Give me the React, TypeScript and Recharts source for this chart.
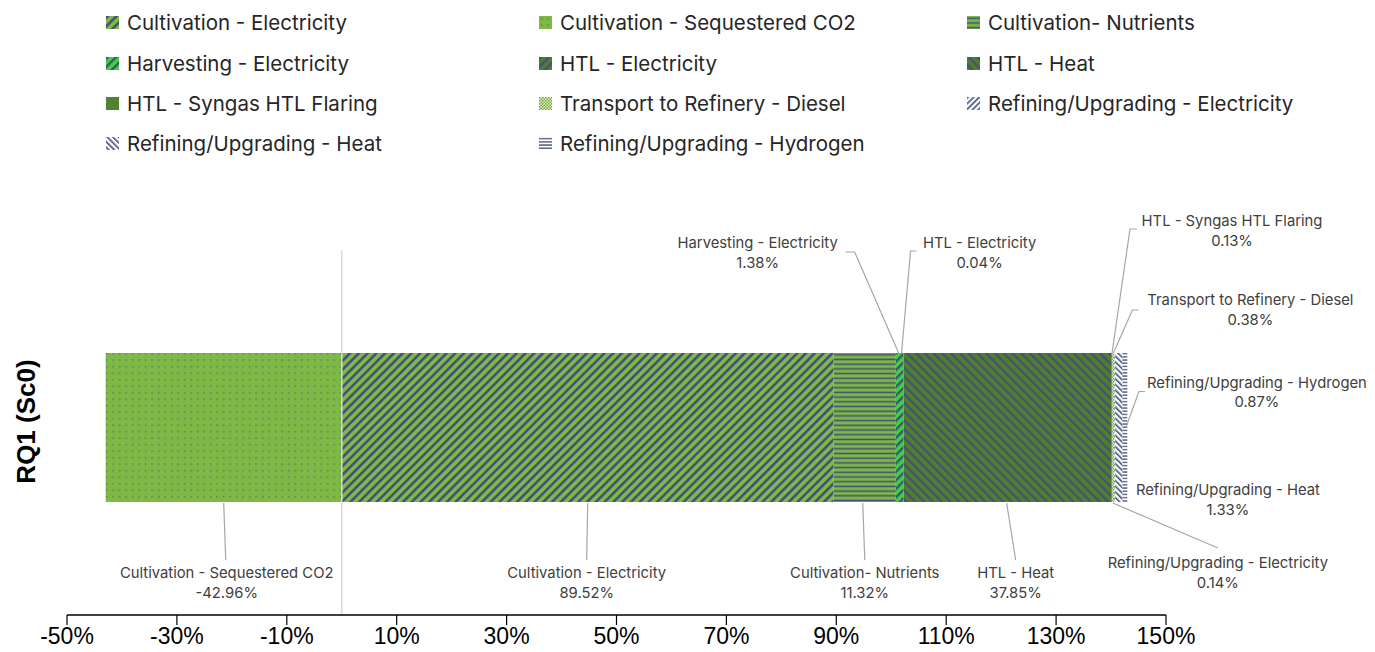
import React from "react";
import { BarChart, Bar, XAxis, YAxis, ReferenceLine, LabelList } from "recharts";

const CATEGORIES = ["RQ1 (Sc0)"];
const SERIES = [
  "Cultivation - Electricity",
  "Cultivation - Sequestered CO2",
  "Cultivation- Nutrients",
  "Harvesting - Electricity",
  "HTL - Electricity",
  "HTL - Heat",
  "HTL - Syngas HTL Flaring",
  "Transport to Refinery - Diesel",
  "Refining/Upgrading - Electricity",
  "Refining/Upgrading - Heat",
  "Refining/Upgrading - Hydrogen",
];
const VALUES = [89.52, -42.96, 11.32, 1.38, 0.04, 37.85, 0.13, 0.38, 0.14, 1.33, 0.87];
const X_TICKS = [-50, -30, -10, 10, 30, 50, 70, 90, 110, 130, 150];

const LG = "#7db944";
const BG = "#3fd23f";
const DG = "#4f7f2a";
const DB = "#43517a";

// callout layout: anchor side on the bar, text offset, leader points (all relative to anchor)
type Callout = { side: "top" | "bottom" | "mid"; dx: number; dy: number; pts: number[][] };
const CALLOUTS: Callout[] = [
  { side: "bottom", dx: -1, dy: 71, pts: [[0, 1], [-1, 58]] },
  { side: "bottom", dx: 3, dy: 71, pts: [[0, 1], [2, 58]] },
  { side: "bottom", dx: 0, dy: 71, pts: [[-2, 1], [0, 58]] },
  { side: "top", dx: -142, dy: -110, pts: [[-1, 0], [-45, -101], [-54, -101]] },
  { side: "top", dx: 76, dy: -110, pts: [[-2, 0], [7, -102], [13, -102]] },
  { side: "bottom", dx: 8, dy: 71, pts: [[-1, 1], [8, 58]] },
  { side: "top", dx: 120, dy: -132, pts: [[0, 0], [18, -124], [25, -124]] },
  { side: "top", dx: 137, dy: -53, pts: [[0, 0], [19, -43], [25, -43]] },
  { side: "bottom", dx: 103, dy: 61, pts: [[-2, 1], [103, 46]] },
  { side: "bottom", dx: 109, dy: -12, pts: [] },
  { side: "mid", dx: 132, dy: -45, pts: [[1, 0], [14, -36], [20, -36]] },
];

const data = CATEGORIES.map((name) => {
  const row: Record<string, string | number> = { name };
  SERIES.forEach((_, i) => (row["s" + i] = VALUES[i]));
  return row;
});

function Patterns() {
  const stripes = (id: string, bg: string, fg: string, angle: number, size: number, w: number) => (
    <pattern id={id} width={size} height={size} patternUnits="userSpaceOnUse" patternTransform={`rotate(${angle})`}>
      <rect width={size} height={size} fill={bg} />
      <rect width={w} height={size} fill={fg} />
    </pattern>
  );
  return (
    <svg width={0} height={0} style={{ position: "absolute" }}>
      <defs>
        {stripes("p0", LG, DB, 45, 6.2, 2.6)}
        <pattern id="p1" width={6.5} height={6.5} patternUnits="userSpaceOnUse">
          <rect width={6.5} height={6.5} fill={LG} />
          <rect x={2} y={2} width={1.3} height={1.3} fill={DB} opacity={0.75} />
        </pattern>
        <pattern id="p2" width={6} height={4.7} patternUnits="userSpaceOnUse">
          <rect width={6} height={4.7} fill={LG} />
          <rect y={1.5} width={6} height={1.6} fill={DB} />
        </pattern>
        {stripes("p3", BG, DB, 45, 6, 2.4)}
        {stripes("p4", DG, DB, 45, 6, 2.4)}
        {stripes("p5", DG, DB, -45, 6.2, 2.2)}
        <pattern id="p6" width={4} height={4} patternUnits="userSpaceOnUse">
          <rect width={4} height={4} fill="#548235" />
        </pattern>
        <pattern id="p7" width={3} height={3} patternUnits="userSpaceOnUse">
          <rect width={3} height={3} fill="#eef3c8" />
          <rect width={1.5} height={1.5} fill="#6aa33a" />
          <rect x={1.5} y={1.5} width={1.5} height={1.5} fill="#6aa33a" />
        </pattern>
        {stripes("p8", "#ffffff", DB, 45, 4, 1.6)}
        {stripes("p9", "#ffffff", DB, -45, 4, 1.6)}
        <pattern id="p10" width={4} height={3.2} patternUnits="userSpaceOnUse">
          <rect width={4} height={3.2} fill="#ffffff" />
          <rect y={1} width={4} height={1.3} fill={DB} />
        </pattern>
      </defs>
    </svg>
  );
}

function CalloutLabel(props: any) {
  const i: number = props.idx;
  const vb = props.viewBox || props;
  const x = Number(vb.x ?? props.x);
  const y = Number(vb.y ?? props.y);
  const w = Number(vb.width ?? props.width);
  const h = Number(vb.height ?? props.height);
  const c = CALLOUTS[i];
  const ax = x + w / 2;
  const ay = c.side === "top" ? y : c.side === "bottom" ? y + h : y + h / 2;
  const tx = ax + c.dx;
  const ty = ay + c.dy;
  const path = c.pts.map((p, k) => `${k ? "L" : "M"}${ax + p[0]},${ay + p[1]}`).join(" ");
  return (
    <g>
      {path && <path d={path} fill="none" stroke="#a6a6a6" strokeWidth={1.2} />}
      <text x={tx} y={ty} textAnchor="middle" dominantBaseline="central" fontFamily="Inter, sans-serif" fontSize={14.8} fill="#404040">
        <tspan x={tx}>{SERIES[i]}</tspan>
        <tspan x={tx} dy={19.5}>{VALUES[i].toFixed(2)}%</tspan>
      </text>
    </g>
  );
}

function CategoryTick(props: any) {
  const { y, payload } = props;
  return (
    <text x={26} y={y - 6} transform={`rotate(-90, 26, ${y - 6})`} textAnchor="middle" dominantBaseline="central"
      fontFamily="'Liberation Sans', Arial, sans-serif" fontWeight="bold" fontSize={26} fill="#000">
      {payload.value}
    </text>
  );
}

const LEGEND_COLS = [106, 539, 967];
const LEGEND_ROWS = [22, 63, 103, 143];

function Legend() {
  return (
    <>
      {SERIES.map((s, i) => (
        <div key={s} style={{
          position: "absolute", left: LEGEND_COLS[i % 3], top: LEGEND_ROWS[Math.floor(i / 3)] - 14,
          height: 28, display: "flex", alignItems: "center", gap: 8,
          fontFamily: "Inter, sans-serif", fontSize: 20.5, color: "#262626", whiteSpace: "nowrap",
        }}>
          <svg width={13} height={13}><rect width={13} height={13} fill={`url(#p${i})`} /></svg>
          <span>{s}</span>
        </div>
      ))}
    </>
  );
}

export default function App() {
  return (
    <div style={{ position: "absolute", left: 0, top: 0, width: 1375, height: 652, background: "#fff" }}>
      <Patterns />
      <Legend />
      <BarChart
        width={1375}
        height={652}
        data={data}
        layout="vertical"
        stackOffset="sign"
        margin={{ top: 250, right: 209, bottom: 0, left: 27 }}
      >
        <XAxis
          type="number"
          domain={[-50, 150]}
          ticks={X_TICKS}
          interval={0}
          height={37}
          tickSize={10}
          tickMargin={3}
          tickFormatter={(v: number) => `${v}%`}
          axisLine={{ stroke: "#000", strokeWidth: 1.6 }}
          tickLine={{ stroke: "#000", strokeWidth: 1.2 }}
          tick={{ fontFamily: "'Liberation Sans Narrow', 'Arial Narrow', sans-serif", fontSize: 23, fill: "#000" }}
        />
        <YAxis
          type="category"
          dataKey="name"
          width={40}
          axisLine={false}
          tickLine={false}
          padding={{ top: 0, bottom: 10 }}
          tick={<CategoryTick />}
        />
        <ReferenceLine x={0} stroke="#d9d9d9" strokeWidth={1.5} />
        {SERIES.map((s, i) => (
          <Bar key={s} dataKey={"s" + i} name={s} stackId="a" fill={`url(#p${i})`} barSize={149} isAnimationActive={false}>
            <LabelList dataKey={"s" + i} content={(p: any) => <CalloutLabel {...p} idx={i} />} />
          </Bar>
        ))}
      </BarChart>
    </div>
  );
}
